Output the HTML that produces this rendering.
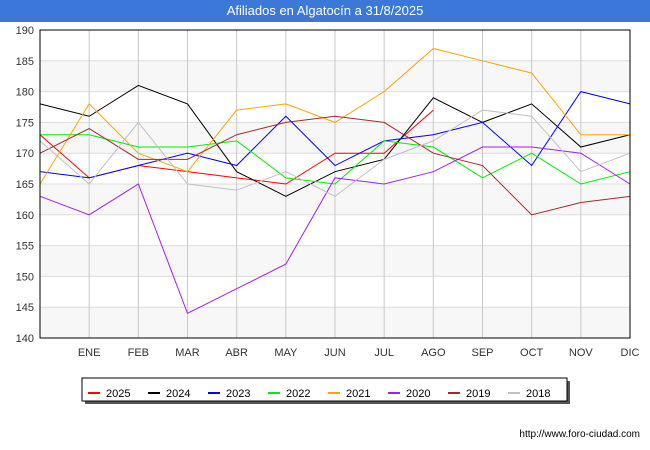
<!DOCTYPE html>
<html><head><meta charset="utf-8"><style>
body{margin:0;width:650px;height:450px;background:#fff;font-family:"Liberation Sans",sans-serif;overflow:hidden}
#title{position:absolute;left:0;top:0;width:650px;height:22px;background:#3c78d8;color:#fff;font-size:13px;text-align:center;line-height:22px}
svg{position:absolute;left:0;top:0}
</style></head><body>
<div id="title">Afiliados en Algatocín a 31/8/2025</div>
<svg id="chart" width="650" height="450"></svg>
<script>
const months=["","ENE","FEB","MAR","ABR","MAY","JUN","JUL","AGO","SEP","OCT","NOV","DIC"];
const yTicks=[140,145,150,155,160,165,170,175,180,185,190];
const seriesNames=["2025","2024","2023","2022","2021","2020","2019","2018"];
const seriesColors=["#ff0000","#000000","#0000ff","#00ee00","#ffa500","#a020f0","#a52a2a","#c0c0c0"];
const s2025=[173,166,168,167,166,165,170,170,177];
const s2024=[178,176,181,178,167,163,167,169,179,175,178,171,173];
const s2023=[167,166,168,170,168,176,168,172,173,175,168,180,178];
const s2022=[173,173,171,171,172,166,165,172,171,166,170,165,167];
const s2021=[165,178,170,167,177,178,175,180,187,185,183,173,173];
const s2020=[163,160,165,144,148,152,166,165,167,171,171,170,165];
const s2019=[170,174,169,169,173,175,176,175,170,168,160,162,163];
const s2018=[172,165,175,165,164,167,163,169,172,177,176,167,170];
const allSeries=[s2025,s2024,s2023,s2022,s2021,s2020,s2019,s2018];
const L=40,R=630,T=30,B=338,yMin=140,yMax=190;
const xs=i=>L+i*(R-L)/12;
const ys=v=>B-(v-yMin)*(B-T)/(yMax-yMin);
const svg=document.getElementById('chart');
const NS="http://www.w3.org/2000/svg";
function mk(t,a){const e=document.createElementNS(NS,t);for(const k in a)e.setAttribute(k,a[k]);svg.appendChild(e);return e;}
for(let i=0;i<yTicks.length-1;i+=2){
  const r=mk('rect',{x:L,y:ys(yTicks[i+1]),width:R-L,height:ys(yTicks[i])-ys(yTicks[i+1]),fill:'#f7f7f7'});
  
  
}
yTicks.forEach(v=>{
  const l=mk('line',{x1:L,x2:R,y1:ys(v),y2:ys(v),stroke:'#dddddd'});
  
  
  const t=mk('text',{x:L-6,y:ys(v)+4,'text-anchor':'end','font-size':'11',fill:'#333'});
  
  
  t.textContent=v;
});
months.forEach((m,i)=>{
  if(i>0){const l=mk('line',{x1:xs(i),x2:xs(i),y1:T,y2:B,stroke:'#c8c8c8'});
  
  }
  const t=mk('text',{x:xs(i),y:356,'text-anchor':'middle','font-size':'11',fill:'#333'});
  
  
  t.textContent=m;
});
allSeries.forEach((s,k)=>{
  const p=mk('polyline',{points:s.map((v,i)=>xs(i)+','+ys(v)).join(' '),fill:'none',stroke:seriesColors[k],'stroke-width':'1'});
  
  
});
const fr=mk('rect',{x:L,y:T,width:R-L,height:B-T,fill:'none',stroke:'#000'});


const sh=mk('rect',{x:85,y:381,width:485,height:23,fill:'#555'});


const lg=mk('rect',{x:82,y:378,width:485,height:23,fill:'#fff',stroke:'#000'});


seriesNames.forEach((n,k)=>{
  const x0=88+k*60;
  const l=mk('line',{x1:x0,x2:x0+12,y1:393,y2:393,stroke:seriesColors[k],'stroke-width':'2'});
  
  
  const t=mk('text',{x:x0+18,y:397,'font-size':'11',fill:'#000'});
  
  
  t.textContent=n;
});
const u=mk('text',{x:640,y:437,'text-anchor':'end','font-size':'10',fill:'#000'});


u.textContent='http://www.foro-ciudad.com';
</script>
</body></html>
